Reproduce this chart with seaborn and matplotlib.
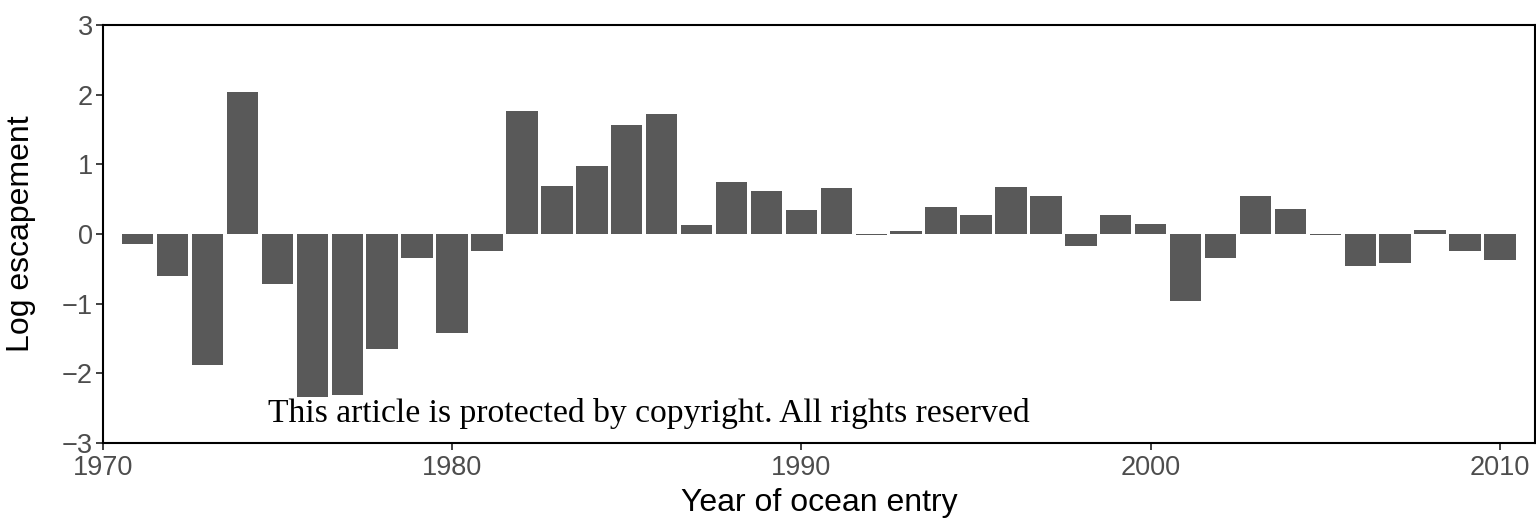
import matplotlib
matplotlib.use("Agg")
import matplotlib.pyplot as plt
import numpy as np
import pandas as pd
import seaborn as sns

# Log escapement by year of ocean entry
years = list(range(1971, 2011))
log_escapement = [
    -0.15, -0.60, -1.88, 2.04, -0.72, -2.34, -2.32, -1.66, -0.34, -1.43,
    -0.24, 1.77, 0.69, 0.98, 1.57, 1.72, 0.13, 0.75, 0.62, 0.35,
    0.66, -0.01, 0.04, 0.39, 0.27, 0.68, 0.55, -0.17, 0.27, 0.14,
    -0.97, -0.34, 0.55, 0.36, -0.01, -0.46, -0.41, 0.06, -0.24, -0.38,
]
x_ticks = [1970, 1980, 1990, 2000, 2010]
y_ticks = [-3, -2, -1, 0, 1, 2, 3]

df = pd.DataFrame({"year": years, "value": log_escapement})

sns.set_theme(style="white")
plt.rcParams["font.family"] = ["Liberation Sans", "DejaVu Sans"]

fig = plt.figure(figsize=(15.36, 5.22), dpi=100)
ax = fig.add_axes([0.0669, 0.1519, 0.9324, 0.7996])

sns.barplot(data=df, x="year", y="value", native_scale=True, width=0.9,
            color="#595959", saturation=1, linewidth=0, ax=ax)

ax.set_xlim(1970, 2011)
ax.set_ylim(-3, 3)
ax.set_xticks(x_ticks)
ax.set_yticks(y_ticks)
ax.set_yticklabels(["\u22123", "\u22122", "\u22121", "0", "1", "2", "3"])

for side in ["left", "bottom", "top", "right"]:
    ax.spines[side].set_visible(True)
    ax.spines[side].set_color("black")
    ax.spines[side].set_linewidth(1.5)

ax.tick_params(axis="both", which="major", direction="out", length=5, width=1.3,
               color="#333333", labelsize=19.5, labelcolor="#4D4D4D",
               bottom=True, left=True)
ax.tick_params(axis="x", pad=4)
ax.tick_params(axis="y", pad=2)

ax.set_xlabel("Year of ocean entry", fontsize=23, color="black", labelpad=5)
ax.set_ylabel("Log escapement", fontsize=23, color="black", labelpad=19)

fig.text(268 / 1536, 1 - 422 / 522,
         "This article is protected by copyright. All rights reserved",
         fontsize=24.2, family=["Liberation Serif", "DejaVu Serif"],
         color="black", ha="left", va="baseline")

fig.savefig("out.png", dpi=100)
